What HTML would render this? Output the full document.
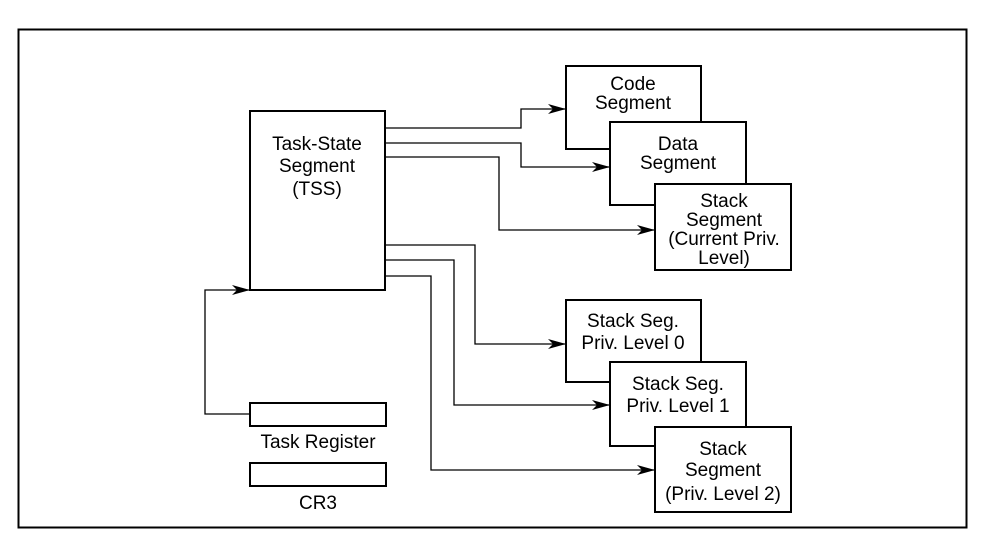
<!DOCTYPE html>
<html><head><style>
body{margin:0;background:#fff}
svg text{font-family:"Liberation Sans",Arial,sans-serif;font-size:19px;fill:#000;text-anchor:middle}
</style></head><body>
<svg width="989" height="539" viewBox="0 0 989 539" xmlns="http://www.w3.org/2000/svg">
<defs><marker id="a" markerWidth="18" markerHeight="10" refX="18" refY="5" orient="auto" markerUnits="userSpaceOnUse"><path d="M0,0 L18,5 L0,10 L5,5 Z" fill="#000"/></marker></defs>
<rect x="18.5" y="29.5" width="948" height="498" fill="none" stroke="#000" stroke-width="2"/>
<g fill="#fff" stroke="#000" stroke-width="2">
<rect x="250" y="111" width="135" height="179"/>
<rect x="566" y="66" width="135" height="83"/>
<rect x="610" y="122" width="136" height="83"/>
<rect x="655" y="184" width="136" height="86"/>
<rect x="566" y="300" width="135" height="82"/>
<rect x="610" y="362" width="136" height="84"/>
<rect x="655" y="427" width="136" height="85"/>
<rect x="250" y="403" width="136" height="23"/>
<rect x="250" y="463" width="136" height="23"/>
</g>
<g fill="none" stroke="#000" stroke-width="1.3" marker-end="url(#a)">
<path d="M386,128 H521 V109 H566"/>
<path d="M386,143 H521 V167 H610"/>
<path d="M386,157 H499 V230 H655"/>
<path d="M386,245 H475 V344 H566"/>
<path d="M386,260 H454 V405 H610"/>
<path d="M386,276 H431 V470 H655"/>
<path d="M250,414 H205 V290 H250"/>
</g>
<text x="317" y="150">Task-State</text>
<text x="317" y="172">Segment</text>
<text x="317" y="195">(TSS)</text>
<text x="633" y="90">Code</text>
<text x="633" y="109">Segment</text>
<text x="678" y="150">Data</text>
<text x="678" y="169">Segment</text>
<text x="724" y="207">Stack</text>
<text x="724" y="226">Segment</text>
<text x="724" y="245">(Current Priv.</text>
<text x="724" y="264">Level)</text>
<text x="633" y="327">Stack Seg.</text>
<text x="633" y="349">Priv. Level 0</text>
<text x="678" y="390">Stack Seg.</text>
<text x="678" y="412">Priv. Level 1</text>
<text x="723" y="455">Stack</text>
<text x="723" y="476">Segment</text>
<text x="723" y="500">(Priv. Level 2)</text>
<text x="318" y="448">Task Register</text>
<text x="318" y="509">CR3</text>
</svg>
</body></html>
